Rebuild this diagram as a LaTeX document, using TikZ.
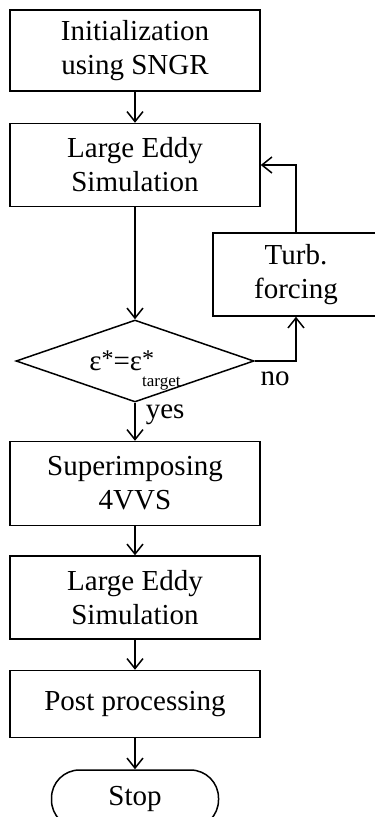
\documentclass[tikz,border=0pt]{standalone}
\usepackage{fontspec}
\setmainfont{Liberation Serif}
\usetikzlibrary{positioning, arrows.meta, shapes.geometric, calc}

\begin{document}
\begin{tikzpicture}[
  font=\fontsize{29}{34}\selectfont, line width=1.5pt,
  proc/.style ={draw=black, align=center, inner sep=0pt, minimum width=250pt, minimum height=83pt},
  cond/.style ={draw=black, diamond, aspect=2.9, inner sep=0pt, minimum width=238pt, minimum height=82pt,
                text height=18pt, text depth=0pt},
  term/.style ={draw=black, rounded corners=28pt, inner sep=0pt, minimum width=167pt, minimum height=58pt},
  lbl/.style  ={inner sep=0pt},
  flow/.style ={-{Straight Barb[length=10pt, width=16pt, line width=1.5pt]}},
]
\clip (0,0) rectangle (375pt,-817pt);

% ---------- main column ----------
\node[proc, minimum height=81pt] (init) at (135pt,-50.5pt) {Initialization\\using SNGR};
\node[proc, below=31pt of init]  (les1) {Large Eddy\\Simulation};
\node[cond, below=112pt of les1] (check)
  {ε\raisebox{4pt}{\fontsize{24}{24}\selectfont *}=ε\rlap{\raisebox{4pt}{\fontsize{24}{24}\selectfont *}}\raisebox{-16pt}{\fontsize{17}{17}\selectfont target}};
\node[proc, minimum height=84pt, below=38pt of check] (sup) {Superimposing\\4VVS};
\node[proc, below=29pt of sup]   (les2) {Large Eddy\\Simulation};
\node[proc, minimum height=67pt, below=30pt of les2] (post) {Post processing};
\node[term, below=31pt of post]  (stop) {Stop};

% ---------- forcing loop ----------
\node[proc, minimum width=166pt] (turb) at (296pt,-274.5pt) {Turb.\\forcing};

% ---------- flows ----------
\draw[flow] (init) -- (les1);
\draw[flow] (les1) -- (check);
\draw[flow] (check.east) -| (turb.south);
\draw[flow] (turb.north) |- (les1.east);
\draw[flow] (check) -- (sup);
\draw[flow] (sup) -- (les2);
\draw[flow] (les2) -- (post);
\draw[flow] (post) -- (stop);

% ---------- labels ----------
\node[lbl, anchor=base west] (no)  at ($(check.east)+(5pt,-24pt)$)  {no};
\node[lbl, anchor=base west] (yes) at ($(check.south)+(10pt,-16pt)$) {yes};

\end{tikzpicture}
\end{document}
